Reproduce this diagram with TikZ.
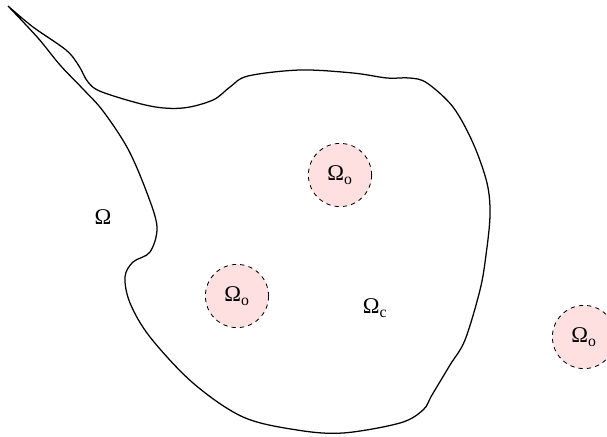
\documentclass[tikz,border=0pt]{standalone}
\usepackage{fontspec}
\setmainfont{Liberation Serif}
\usetikzlibrary{positioning}

\begin{document}
\begin{tikzpicture}[x=.025cm,y=-.025cm,font=\fontsize{16}{18}\selectfont,
 hole/.style={circle,draw,dashed,line width=.6pt,fill=red!12,minimum size=1.58cm,inner sep=0pt},
 lbl/.style={inner sep=1pt}]
\useasboundingbox (0,0) rectangle (607,436);
\draw[line width=.9pt] plot[smooth,tension=.55] coordinates {(8,6) (33,27) (66,50) (79,66) (88,82) (102,92) (150,106) (183,108) (213,100) (230,87) (248,76) (300,70) (353,73) (387,78) (410,78) (427,83) (453,107) (473,143) (487,183) (490,215) (486,255) (480,290) (465,340) (450,365) (432,395) (423,410) (400,423) (343,433) (297,430) (243,417) (193,383) (150,337) (130,303) (125,277) (133,262) (150,252) (157,227) (147,193) (128,149) (103,111) (83,89) (60,65) (38,38) (8,6)};
\node[hole] (o1) at (340,175) {Ω\textsubscript{o}};
\node[hole] (o2) at (237,296) {Ω\textsubscript{o}};
\node[hole] (o3) at (584,337) {Ω\textsubscript{o}};
\node[lbl] (om) at (103,217) {Ω};
\node[lbl] (oc) at (375,308) {Ω\textsubscript{c}};
\end{tikzpicture}
\end{document}
